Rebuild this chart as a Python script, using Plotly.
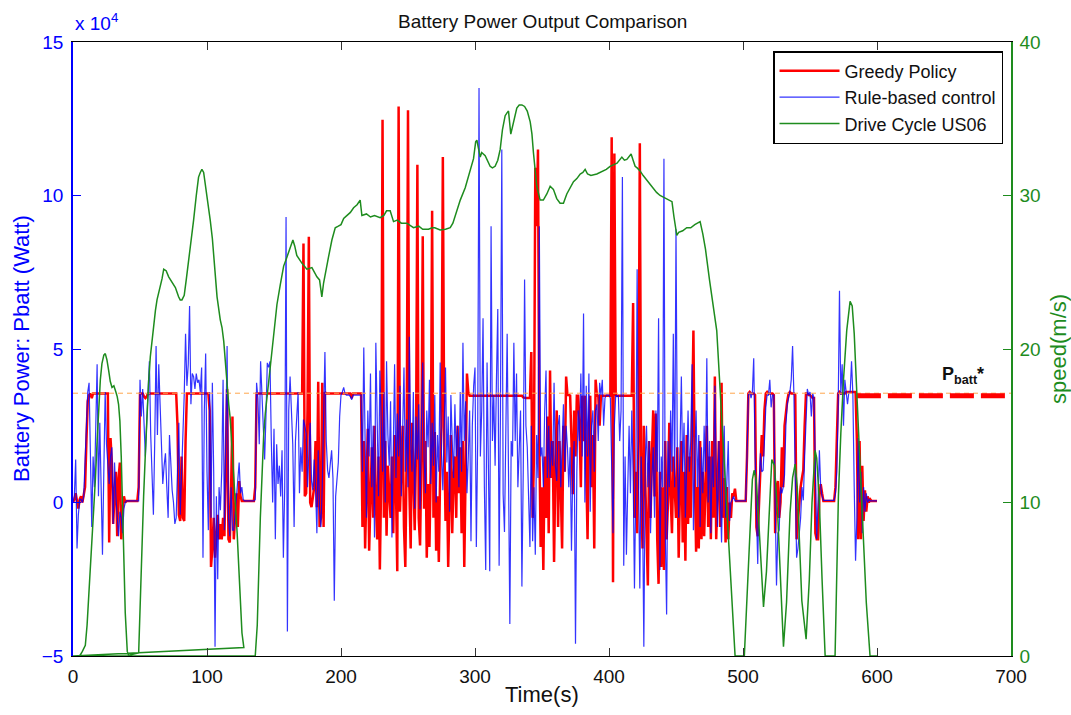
import plotly.graph_objects as go

# ---------------- data (power in units of 1e4 W, one sample per second) ----------------
rule_based_rows = {
    0: [0.0, 0.2, 1.4, -1.5, -0.4, 0.1, 0.1, 0.0, 0.2, 1.5],
    10: [2.8, 3.6, 3.9, 2.0, -0.8, 1.5, 0.5, 2.5, 4.5, 0.2],
    20: [2.6, 0.5, -1.7, 1.0, 3.6, 1.9, 1.2, 0.6, 1.5, 1.8],
    30: [-0.7, 1.3, 0.2, -0.4, -1.1, -0.3, -0.5, -1.0, -0.2, 0.0],
    40: [0.05, 0.05, 0.05, 0.05, 0.05, 0.05, 0.05, 0.05, 0.05, 0.05],
    50: [4.0, 2.8, 3.7, 2.5, 1.5, 2.6, 3.4, 4.6, 2.2, 0.5],
    60: [-0.4, 2.0, 5.1, 2.2, 4.5, 3.2, 1.5, 0.6, 1.2, 1.6],
    70: [0.5, -0.5, 2.2, 1.0, 0.4, 0.0, -0.7, -0.5, 1.0, 2.6],
    80: [-0.4, 0.8, 1.9, 3.5, 5.5, 3.8, 4.5, 6.4, 3.2, 4.2],
    90: [4.1, 3.7, 4.2, 3.9, 4.0, 3.6, 4.4, -1.8, 3.0, 4.85],
    100: [1.0, -0.9, 3.6, -0.5, 3.9, 1.0, -4.7, 0.2, -2.5, 0.5],
    110: [-0.25, 1.0, 4.0, -0.9, 2.0, 5.1, -0.5, -1.1, 0.5, -0.9],
    120: [-0.9, -0.3, 0.0, 0.8, 1.3, 0.3, 0.5, 0.1, 0.05, 0.05],
    130: [0.05, 0.05, 0.05, 0.05, 0.05, 0.05, 0.1, 3.9, 3.4, 1.9],
    140: [4.6, 3.4, 2.5, 1.4, 2.8, 4.55, 4.4, 4.6, 2.0, 0.0],
    150: [2.4, -1.2, 1.9, 0.6, 1.2, 0.2, 1.7, -1.8, 0.5, 9.3],
    160: [-4.2, 3.0, 4.1, 2.6, 1.9, -0.8, 2.0, 2.8, 3.6, 0.3],
    170: [1.8, 1.0, 2.7, 2.5, 2.25, 0.5, 1.5, 2.6, 0.7, 0.4],
    180: [1.4, 0.5, -1.0, 1.7, -0.25, -0.8, 0.5, 2.3, 4.9, 2.0],
    190: [1.05, 0.8, 1.2, 1.7, 0.8, -3.2, 0.2, 0.9, 1.3, 2.8],
    200: [3.5, 3.6, 3.75, 3.55, 3.5, 3.5, 3.5, 3.45, 3.35, 3.5],
    210: [3.5, 3.5, 3.5, 3.5, 3.5, 3.5, 1.0, 5.05, 2.0, -0.5],
    220: [3.0, 1.5, 4.2, 0.5, 2.5, -1.14, 5.2, 1.8, 0.2, 4.3],
    230: [2.5, 1.0, 3.6, 0.0, 4.6, 2.2, 1.2, 3.3, -1.14, 2.0],
    240: [4.5, 0.8, 2.9, 1.5, 3.8, 0.2, 2.4, 4.4, 1.0, 2.7],
    250: [0.5, 5.4, 2.0, 1.0, 3.6, -0.2, 2.8, 1.4, 3.2, -0.22],
    260: [2.5, 4.56, 1.5, 0.3, 3.0, 1.8, 4.0, 0.6, 2.6, 1.2],
    270: [3.5, 0.0, 2.2, 1.0, 4.56, 1.6, 0.4, 3.0, 4.4, 1.3],
    280: [2.8, -0.3, 3.5, 2.0, 0.8, 3.2, 1.5, 2.5, 0.5, 3.6],
    290: [1.0, 5.2, 2.0, 3.3, 0.3, 1.5, 3.0, -1.26, 2.5, 3.8],
    300: [4.4, -1.45, 2.0, 13.5, 1.5, 3.0, 6.0, 0.5, -2.2, 4.56],
    310: [0.5, -2.24, 9.0, 2.0, 3.5, 1.2, 4.0, 6.3, -2.06, 3.0],
    320: [11.5, 0.27, -0.96, 2.5, 5.5, 1.0, -3.96, 2.0, 1.5, 5.2],
    330: [2.0, 4.2, 0.5, 1.74, 3.0, -2.74, 1.0, 7.26, 2.5, 1.8],
    340: [0.0, -1.45, 2.5, -1.26, 0.5, -1.7, 2.2, 0.8, 9.0, 1.5],
    350: [1.8, 0.5, 3.0, 4.3, 0.8, 2.5, 0.8, 2.0, 1.2, 3.9],
    360: [1.2, 0.7, 2.5, 2.85, 0.5, 2.0, 3.2, 1.0, 2.5, 1.8],
    370: [0.5, 1.8, -1.57, 1.1, 2.0, -4.6, 1.0, 3.0, 2.0, 4.2],
    380: [1.5, 6.16, 0.0, 3.8, 1.5, 4.2, -0.3, 2.5, 3.0, 1.0],
    390: [3.0, 3.2, 2.0, 3.9, 3.5, 4.0, 2.5, 3.4, 3.5, 3.5],
    400: [3.5, 3.4, 1.0, -1.0, 2.5, 3.5, 3.45, 3.5, 2.0, 3.0],
    410: [10.6, -2.06, 1.5, -1.7, 0.5, 2.5, 0.3, 3.0, 1.0, -2.8],
    420: [0.5, 7.6, 1.0, -2.8, 1.5, 0.0, -4.7, 1.2, 2.5, 0.5],
    430: [2.0, -1.0, 0.8, 1.8, -0.5, 3.0, 1.0, 6.0, -2.2, 1.5],
    440: [0.5, 11.2, -1.0, -3.65, 2.0, 0.5, 3.0, 1.0, 5.5, 0.5],
    450: [8.9, 1.5, -0.5, 2.5, 4.1, 1.0, 2.6, -0.5, 1.2, 3.0],
    460: [1.0, 2.0, 4.5, -0.9, 1.5, 3.0, 0.5, 2.2, -0.8, 1.8],
    470: [0.3, 2.5, 1.0, 4.7, 0.0, 2.0, -1.0, 1.5, 0.5, 3.8],
    480: [1.0, -0.8, 2.0, 0.5, -1.3, 1.2, 2.5, -0.5, 0.8, 2.0],
    490: [-0.6, 0.0, 0.1, 0.2, 0.05, 0.05, 0.05, 0.05, 0.05, 0.05],
    500: [0.05, 0.05, 0.05, 1.5, 3.5, 3.6, 3.4, 3.6, 4.7, 1.6],
    510: [-0.5, -2.0, 0.5, 1.6, 1.0, 1.05, 2.0, 3.1, 3.5, 3.5],
    520: [4.0, 3.1, 3.5, 3.5, 0.0, -2.7, -1.0, -0.9, 0.5, 0.3],
    530: [0.5, 0.9, 2.5, 3.2, 3.4, 3.6, 4.0, 5.1, 3.5, 1.05],
    540: [-1.8, -1.5, -1.1, -0.5, 0.5, 0.07, 1.5, 3.0, 3.7, 3.5],
    550: [3.6, 2.8, 3.55, 3.4, 0.5, -1.2, 0.0, 1.7, 0.5, 0.2],
    560: [0.07, 0.07, 0.07, 0.07, 0.07, 0.07, 0.07, 0.07, 0.07, 0.3],
    570: [1.0, 3.0, 6.9, 3.5, 4.5, 2.5, 4.0, 3.6, 3.2, 3.6],
    580: [3.6, 4.6, 3.5, 0.5, -1.9, -0.5, 2.1, 0.0, 1.0, -1.0],
    590: [0.5, -0.3, 0.3, 0.0, 0.1, 0.05, 0.05, 0.05, 0.05, 0.05],
    600: [0.05],
}

greedy_rows = {
    0: [0.0, 0.1, 0.3, 0.0, -0.2, 0.1, 0.2, 0.0, 0.3, 0.5],
    10: [2.0, 3.3, 3.5, 3.55, 3.4, 3.55, 3.55, 3.55, 3.55, 3.55],
    20: [3.55, 3.55, 3.55, 3.55, 3.55, 3.55, 3.55, -1.3, 2.1, 1.3],
    30: [-0.7, 0.3, 1.0, -1.1, 0.8, 1.3, -1.2, -0.3, 0.2, 0.0],
    40: [0.05, 0.05, 0.05, 0.05, 0.05, 0.05, 0.05, 0.05, 0.05, 0.5],
    50: [3.55, 3.55, 3.55, 3.45, 3.4, 3.45, 3.55, 3.55, 3.55, 3.55],
    60: [3.55, 3.55, 3.55, 3.55, 3.55, 3.55, 3.55, 3.55, 3.55, 3.55],
    70: [3.55, 3.55, 3.55, 3.55, 3.55, 3.55, 3.55, 3.55, 2.5, -0.4],
    80: [-0.6, 1.5, -0.5, -0.6, 2.0, 3.55, 3.55, 3.55, 3.55, 3.55],
    90: [3.55, 3.55, 3.55, 3.55, 3.55, 3.55, 3.55, 3.55, 3.55, 3.55],
    100: [3.55, 3.55, 3.0, -2.1, -1.5, -0.5, -1.8, -1.0, -0.4, -1.2],
    110: [-0.7, -1.2, -0.5, -1.1, 1.5, 3.7, -1.2, -1.3, 0.5, 2.8],
    120: [-1.2, -0.5, 0.3, -0.8, 0.7, 0.2, 0.05, 0.05, 0.05, 0.05],
    130: [0.05, 0.05, 0.05, 0.05, 0.05, 0.05, 0.5, 3.55, 3.55, 3.55],
    140: [3.55, 3.55, 3.55, 3.55, 3.55, 3.55, 3.55, 3.55, 3.55, 3.55],
    150: [3.55, 3.55, 3.55, 3.55, 3.55, 3.55, 3.55, 3.55, 3.55, 3.55],
    160: [3.55, 3.55, 3.55, 3.55, 3.55, 3.55, 3.55, 3.55, 3.55, 3.55],
    170: [3.55, 3.55, 8.44, 0.2, 0.3, 3.0, 8.66, 0.0, -0.15, 0.2],
    180: [0.5, 2.0, -0.15, 3.93, -0.8, -0.5, 3.9, -0.8, 3.6, 3.55],
    190: [3.55, 3.55, 3.55, 3.55, 3.55, 3.55, 3.55, 3.55, 3.55, 3.55],
    200: [3.55, 3.55, 3.55, 3.55, 3.55, 3.55, 3.55, 3.55, 3.4, 3.55],
    210: [3.55, 3.55, 3.55, 3.55, 3.55, 3.55, -0.8, 2.0, -1.5, 1.0],
    220: [2.4, -1.57, 0.5, 1.8, -0.5, 2.5, 0.0, -1.2, 1.5, -2.18],
    230: [0.8, 12.47, -0.5, 2.0, -1.08, 1.2, 0.3, -0.5, 1.5, -1.0],
    240: [2.2, 0.5, -2.24, 12.9, -0.3, 1.0, 2.5, -0.8, -2.1, 1.6],
    250: [12.78, 0.5, -1.5, 2.6, 0.8, -0.9, 1.8, 11.0, -0.5, -1.4],
    260: [1.5, 8.67, -0.2, 2.0, -1.8, 0.6, -1.45, 1.2, 9.5, -0.5],
    270: [2.3, -1.57, 0.2, -1.94, 1.0, 2.48, 11.25, 2.4, -0.6, 1.0],
    280: [-2.1, 0.5, 2.2, -1.0, 0.8, 1.5, -0.5, 2.5, 0.3, 1.8],
    290: [-1.0, 2.0, -2.1, 1.0, 4.2, 3.6, 3.48, 3.48, 3.48, 3.48],
    300: [3.48, 3.48, 3.48, 3.48, 3.48, 3.48, 3.48, 3.48, 3.48, 3.48],
    310: [3.48, 3.48, 3.48, 3.48, 3.48, 3.48, 3.48, 3.48, 3.48, 3.48],
    320: [3.48, 3.48, 3.48, 3.48, 3.48, 3.48, 3.48, 3.48, 3.48, 3.48],
    330: [3.48, 3.48, 3.48, 3.48, 3.48, 3.48, 3.42, 3.4, 3.4, 3.4],
    340: [3.4, 3.4, 4.9, -0.5, 1.5, 10.9, 9.0, 11.5, 2.0, -1.45],
    350: [0.5, -2.2, 1.5, -0.5, 2.8, -1.0, 4.3, 0.8, 2.0, -1.94],
    360: [1.2, 3.0, -0.8, 2.0, 0.5, -1.5, 2.5, 1.0, 4.1, 3.5],
    370: [3.5, 3.48, 2.0, 0.27, 3.0, 1.5, 3.48, 3.48, 2.6, 0.5],
    380: [3.48, 2.0, 3.48, 1.0, -1.2, 2.5, 3.48, 0.5, 2.2, -1.5],
    390: [4.0, 3.48, 3.48, 2.5, 3.48, 3.48, 3.48, 3.48, 3.48, 3.48],
    400: [3.48, 3.48, 11.9, -2.6, 11.37, 3.5, 3.48, 3.48, 3.48, 3.48],
    410: [3.48, 3.48, 3.48, 3.48, 3.48, 3.48, 3.48, 3.48, 6.5, -0.5],
    420: [1.0, -1.0, 2.0, 11.7, 0.5, -1.5, 2.5, 0.8, -1.0, -2.7],
    430: [2.0, -0.5, 1.5, 3.0, 0.2, 2.9, -1.2, -2.65, 1.0, -2.1],
    440: [0.5, -2.2, 2.0, -1.2, 0.0, 2.6, 0.2, -1.0, 1.5, 0.2],
    450: [-0.5, 1.8, -1.8, 0.5, 2.0, -1.3, 1.0, -1.9, 2.2, -0.7],
    460: [1.5, -0.5, 2.0, 5.6, 1.0, -1.6, 0.5, -1.5, 2.0, -1.2],
    470: [1.0, -1.1, 0.5, 2.5, -0.8, 1.5, -1.2, 2.0, -0.5, 4.1],
    480: [-1.2, 0.5, 2.0, -0.8, 3.9, -0.5, 0.8, -1.3, 0.5, -1.2],
    490: [0.0, -0.5, 0.3, 0.2, 0.45, 0.05, 0.05, 0.05, 0.05, 0.05],
    500: [0.05, 0.05, 0.05, 1.5, 3.55, 3.6, 3.55, 3.55, 3.55, 3.5],
    510: [-0.8, -1.1, 0.2, 1.0, 2.2, 1.5, 3.0, 3.55, 3.6, 3.55],
    520: [3.55, 3.55, 3.55, 3.5, -1.0, 0.5, 0.7, -0.5, 0.0, 1.8],
    530: [0.5, 2.5, 3.0, 3.3, 3.55, 3.6, 3.55, 3.55, 3.55, 3.5],
    540: [-1.2, -0.6, 0.0, 0.5, 0.8, 1.05, 2.5, 3.55, 3.55, 3.5],
    550: [3.5, 3.45, 3.4, 3.4, -1.0, -1.2, -1.2, 0.2, 0.6, 0.3],
    560: [0.05, 0.05, 0.05, 0.05, 0.05, 0.05, 0.05, 0.05, 0.05, 0.5],
    570: [2.5, 3.55, 3.6, 3.55, 3.55, 3.55, 3.55, 3.6, 3.6, 3.6],
    580: [3.6, 3.6, 3.6, 3.6, 3.6, 2.0, -1.2, 2.0, -1.2, 1.2],
    590: [-0.6, 0.4, -0.3, 0.2, 0.0, 0.1, 0.05, 0.05, 0.05, 0.05],
    600: [0.05],
}

# drive cycle US06 speed (m/s), (time s, speed) in plotted order
drive_cycle = [
    (0, 0), (5, 0), (7, 0.3), (9.2, 0.7), (10.5, 2.0), (11.7, 3.9), (13, 5.5), (14.2, 7.1),
    (15.5, 9.2), (16.7, 11.5), (18, 14.0), (19.2, 16.4), (20.4, 18.0), (21.6, 19.05), (23, 19.6),
    (24.1, 19.7), (25.3, 19.3), (26.6, 18.6), (27.8, 17.9), (29.1, 17.5), (30.5, 17.6), (32, 17.2),
    (33, 16.9), (34, 16.4), (35, 15.3), (36, 13.0), (37, 10.0), (37.8, 7.1), (39, 2.8), (40.5, 0.3),
    (41.5, 0.05), (49, 0.2), (50.2, 3.9), (51.5, 7.0), (52.7, 10.4), (54, 13.2), (55.2, 16.0),
    (56.5, 18.0), (57.7, 19.5), (59, 20.7), (60.2, 21.6), (61.5, 22.5), (62.7, 23.2), (64, 23.7),
    (65.2, 24.0), (66.5, 24.6), (67.7, 25.2), (69.5, 25.1), (71.4, 24.7), (73.5, 24.4), (76.4, 24.0),
    (78.8, 23.4), (80, 23.2), (81.3, 23.2), (83, 23.5), (84.5, 24.5), (86, 25.5), (87.5, 26.7),
    (88.8, 27.7), (90, 28.4), (92, 30.0), (93.7, 31.2), (95, 31.5), (96.2, 31.7), (97.5, 31.5),
    (98.7, 30.8), (100, 29.8), (101.2, 29.2), (102.4, 28.4), (104, 27.2), (106.1, 25.1), (107.5, 23.4),
    (109.9, 21.9), (111.2, 21.4), (112.5, 20.5), (113.7, 19.05), (115, 17.8), (116.2, 16.4),
    (117.3, 15.5), (118.7, 13.6), (120, 12.0), (121.1, 10.4), (122.5, 8.0), (123.6, 6.0),
    (124.8, 3.9), (126.1, 1.5), (127.5, 0.55), (0, 0), (136, 0), (137.5, 2.0), (139.8, 9.0),
    (141, 12.0), (142.3, 14.4), (143.5, 15.8), (144.8, 16.8), (147.3, 19.0), (149.8, 20.8),
    (152.2, 22.9), (154.7, 24.2), (157.2, 25.4), (159.7, 26.0), (162.2, 26.6), (164.1, 27.1),
    (165.5, 26.7), (167, 26.1), (170.8, 25.6), (174.5, 25.2), (178.3, 25.3), (182, 24.7), (184, 24.5),
    (185.7, 23.4), (187, 24.3), (188.2, 24.9), (190.7, 26.0), (193.2, 27.1), (195.7, 27.9),
    (198, 28.0), (200, 28.1), (202, 28.5), (204.4, 28.7), (207, 28.9), (209.4, 29.2), (212, 29.4),
    (214.3, 29.7), (215.6, 28.7), (219, 28.8), (222, 28.6), (225, 28.7), (229.2, 28.55), (232, 28.7),
    (234, 29.0), (236.7, 29.0), (239.2, 28.3), (242, 28.4), (245, 28.2), (249.1, 28.2), (252, 28.0),
    (254.1, 27.9), (258, 28.0), (261, 27.8), (265.3, 27.8), (268, 27.9), (270, 27.9), (274, 27.75),
    (278, 27.8), (281.5, 27.9), (283.5, 28.2), (285.2, 28.7), (287, 29.2), (289, 29.7), (292.7, 30.5),
    (296.4, 31.6), (298.9, 32.4), (300.5, 33.5), (301.4, 33.6), (303.9, 32.5), (305, 32.8),
    (307.6, 32.6), (309.5, 32.2), (311.3, 31.9), (313, 31.8), (315, 31.9), (317, 32.3), (318.8, 33.0),
    (320.5, 34.3), (322.5, 35.2), (324, 35.4), (325, 35.5), (326.7, 34.0), (328, 34.5), (329.5, 35.2),
    (331.2, 35.7), (333, 35.9), (335, 35.9), (337, 35.8), (339, 35.5), (341.2, 34.8), (342.5, 34.0),
    (343.6, 32.8), (344.8, 31.6), (346.1, 30.6), (348.6, 29.7), (351, 29.7), (353.6, 30.1),
    (356.1, 30.6), (358.5, 30.4), (361, 29.8), (363.5, 29.5), (366, 29.5), (368.5, 30.1), (371, 30.5),
    (373.5, 30.9), (376, 31.1), (378.5, 31.4), (380.5, 31.5), (382.2, 31.7), (384, 31.4),
    (386.5, 31.3), (390.9, 31.4), (393.5, 31.5), (395.9, 31.6), (398, 31.7), (400.8, 31.9), (403, 32.0),
    (406, 32.1), (409.6, 32.5), (411.5, 32.3), (413.3, 32.35), (415, 32.5), (416.5, 32.7), (418, 32.3),
    (419.5, 31.9), (421, 31.8), (423.2, 31.6), (425.5, 31.3), (428.2, 31.0), (430.5, 30.7),
    (433.2, 30.4), (435.5, 30.2), (438.1, 30.0), (440.5, 29.9), (443, 29.8), (445.5, 29.7), (447, 29.6),
    (448.5, 28.6), (450.6, 27.4), (452, 27.6), (455, 27.7), (458, 27.9), (461, 27.9), (464, 28.1),
    (466, 28.2), (468, 28.3), (470, 27.5), (472, 26.5), (475, 24.5), (477.5, 23.0), (480.4, 21.2),
    (482.5, 18.0), (485, 14.1), (487, 10.9), (489.1, 8.0), (490.4, 6.0), (492, 3.0), (494.1, 0.0),
    (501, 0.0), (503, 4.0), (505.3, 9.1), (507, 11.5), (508.3, 12.1), (509.8, 11.5), (511.3, 9.5),
    (512.8, 7.1), (515.3, 3.2), (517.5, 5.5), (519.5, 9.5), (521.5, 12.8), (523.5, 12.4), (526, 9.0),
    (528.5, 4.0), (530.2, 0.6), (532.5, 3.5), (535.1, 9.3), (537, 11.6), (538.9, 12.5), (540.5, 11.0),
    (542, 7.5), (543.9, 3.6), (547.1, 1.1), (549.5, 5.0), (551.5, 10.0), (553.8, 13.4), (555, 12.9),
    (557, 10.0), (559, 5.0), (561.3, 0.0), (568.7, 0.0), (570, 5.0), (571.2, 10.4), (573, 14.5),
    (575, 18.0), (577.4, 21.2), (579.9, 23.1), (581.5, 22.8), (583, 21.0), (585, 17.0), (587.5, 12.0),
    (589.9, 7.1), (592, 3.5), (594.8, 0.0), (600, 0.0),
]

pbatt_star_level = 3.56          # reference Pbatt* (x 1e4 W)
pbatt_star_extension = [585, 700]
pbatt_star_ext_level = 3.48


def flatten(rows):
    ts, vs = [], []
    for start in sorted(rows):
        for i, v in enumerate(rows[start]):
            ts.append(start + i)
            vs.append(v)
    return ts, vs


rule_t, rule_p = flatten(rule_based_rows)
greedy_t, greedy_p = flatten(greedy_rows)
speed_t = [p[0] for p in drive_cycle]
speed_v = [p[1] for p in drive_cycle]

FONT = "Liberation Sans, Arial, Helvetica, sans-serif"
GREEN = "#1e8c1e"
BLUE = "#0000ff"

fig = go.Figure()
fig.add_trace(go.Scatter(x=greedy_t, y=greedy_p, mode="lines", name="Greedy Policy",
                         line=dict(color="#ff0000", width=2.5)))
fig.add_trace(go.Scatter(x=rule_t, y=rule_p, mode="lines", name="Rule-based control",
                         line=dict(color="rgba(0,0,255,0.8)", width=1.2)))
fig.add_trace(go.Scatter(x=[0, 700], y=[pbatt_star_level, pbatt_star_level], mode="lines",
                         showlegend=False, line=dict(color="#ffa64d", width=1, dash="5px,4px")))
fig.add_trace(go.Scatter(x=pbatt_star_extension, y=[pbatt_star_ext_level] * 2, mode="lines",
                         showlegend=False, line=dict(color="#ff0000", width=5, dash="24px,7px")))
fig.add_trace(go.Scatter(x=speed_t, y=speed_v, mode="lines", name="Drive Cycle US06",
                         yaxis="y2", line=dict(color=GREEN, width=1.5)))

fig.update_layout(
    width=1071, height=715,
    margin=dict(l=73, r=60, t=42, b=59),
    paper_bgcolor="white", plot_bgcolor="white",
    font=dict(family=FONT, size=19, color="black"),
    showlegend=True,
    legend=dict(x=0.9915, y=0.9853, xanchor="right", yanchor="top",
                bgcolor="white", bordercolor="black", borderwidth=1.5,
                font=dict(size=18, color="#111111"), itemwidth=60,
                tracegroupgap=0),
    xaxis=dict(range=[0, 700], dtick=100, tick0=0, showgrid=False, zeroline=False,
               showline=True, linecolor="black", linewidth=1, mirror="ticks",
               ticks="inside", ticklen=8, tickcolor="#333333",
               tickfont=dict(size=19, color="#111111"), ticklabelstandoff=3),
    yaxis=dict(range=[-5, 15], dtick=5, tick0=-5, showgrid=False, zeroline=False,
               showline=True, linecolor=BLUE, linewidth=1.5,
               ticks="inside", ticklen=8, tickcolor=BLUE,
               tickfont=dict(size=19, color=BLUE), ticklabelstandoff=4),
    yaxis2=dict(range=[0, 40], dtick=10, tick0=0, overlaying="y", side="right",
                showgrid=False, zeroline=False, showline=True, linecolor=GREEN, linewidth=1.5,
                ticks="inside", ticklen=8, tickcolor=GREEN,
                tickfont=dict(size=19, color=GREEN), ticklabelstandoff=3),
    annotations=[
        dict(text="Battery Power Output Comparison", xref="paper", yref="paper",
             x=0.5, y=1.0342, xanchor="center", yanchor="middle", showarrow=False,
             font=dict(size=19, color="#111111")),
        dict(text="Time(s)", xref="paper", yref="paper", x=0.5, y=-0.0635,
             xanchor="center", yanchor="middle", showarrow=False,
             font=dict(size=22, color="#111111")),
        dict(text="Battery Power: Pbatt (Watt)", xref="paper", yref="paper",
             x=-0.0554, y=0.5, xanchor="center", yanchor="middle", textangle=-90,
             showarrow=False, font=dict(size=22, color=BLUE)),
        dict(text="speed(m/s)", xref="paper", yref="paper", x=1.050, y=0.5,
             xanchor="center", yanchor="middle", textangle=-90, showarrow=False,
             font=dict(size=22, color=GREEN)),
        dict(text="x 10<sup>4</sup>", xref="paper", yref="paper", x=0.0, y=1.0098,
             xanchor="left", yanchor="bottom", showarrow=False,
             font=dict(size=19, color=BLUE)),
        dict(text="<b>P<sub>batt</sub>*</b>", xref="x", yref="y", x=664, y=4.15,
             xanchor="center", yanchor="middle", showarrow=False,
             font=dict(size=18, color="#111111")),
    ],
)

fig.write_html("out.html")
